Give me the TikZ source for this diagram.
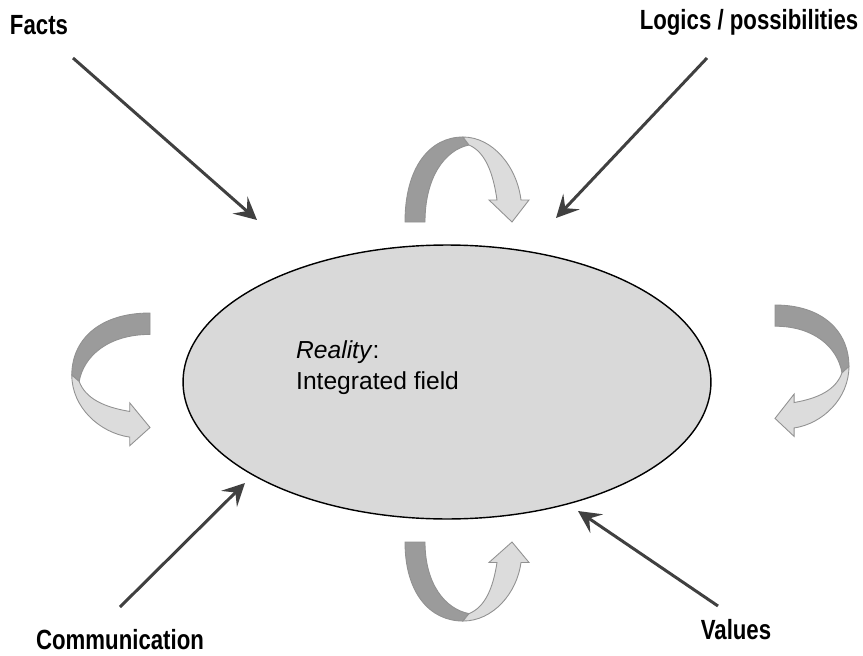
\documentclass[tikz,border=0pt]{standalone}
\usepackage{fontspec}
\setmainfont{Liberation Sans}
\newfontfamily\headfont{Liberation Sans}[FakeStretch=0.8]
\usetikzlibrary{shapes.geometric,arrows.meta}
\definecolor{fieldgray}{RGB}{217,217,217}
\definecolor{arrowgray}{RGB}{64,64,64}
\definecolor{backgray}{RGB}{155,155,155}
\definecolor{frontgray}{RGB}{220,220,220}
\definecolor{edgegray}{RGB}{145,145,145}
\tikzset{
  feed/.style={line width=1.7pt, draw=arrowgray, -{Stealth[length=4.5mm,width=4.5mm,inset=1.8mm]}},
  head/.style={font=\headfont\bfseries\fontsize{15.8}{18}\selectfont},
  inner/.style={anchor=west, font=\fontsize{14}{16}\selectfont},
  % twisted ribbon: dark back face, light front face with the head
  swirl/.pic={
    \filldraw [fill=backgray, draw=edgegray, line width=0.5pt]
      (0,0) .. controls (0,-55) and (25,-85) .. (58,-85) -- (64,-77)
      .. controls (40,-72) and (20,-45) .. (20,0) -- cycle;
    \filldraw [fill=frontgray, draw=edgegray, line width=0.5pt]
      (58,-85) .. controls (88,-85) and (112,-55) .. (116,-22)
      -- (124,-22) -- (107,0) -- (84,-22) -- (92,-22)
      .. controls (88,-50) and (80,-70) .. (64,-77) -- cycle;
  }
}
\begin{document}
\begin{tikzpicture}[x=0.02cm, y=-0.02cm]
    \useasboundingbox (0,0) rectangle (863,656);
    \node [ellipse, draw, line width=0.8pt, fill=fieldgray,
           minimum width=10.56cm, minimum height=5.48cm] (field) at (447,382) {};
    \node [inner] (real)  at (290,352) {\textit{Reality}:};
    \node [inner] (integ) at (290,383) {Integrated field};

    \node [head] (facts)  at (39,25)   {Facts};
    \node [head] (logics) at (749,22)  {Logics / possibilities};
    \node [head] (comm)   at (120,640) {Communication};
    \node [head] (values) at (736,630) {Values};

    \coordinate (f1) at (73,58);   \coordinate (f2) at (257,220);
    \coordinate (l1) at (707,58);  \coordinate (l2) at (556,218);
    \coordinate (c1) at (120,607); \coordinate (c2) at (245,483);
    \coordinate (v1) at (718,606); \coordinate (v2) at (578,511);
    \draw [feed] (f1) -- (f2);
    \draw [feed] (l1) -- (l2);
    \draw [feed] (c1) -- (c2);
    \draw [feed] (v1) -- (v2);

    % the four turning ribbons round the field
    \begin{scope}[shift={(405,222)}]
        \pic [transform shape] {swirl};
    \end{scope}
    \begin{scope}[shift={(405,542)}, yscale=-0.93]
        \pic [transform shape] {swirl};
    \end{scope}
    \begin{scope}[shift={(150,313)}, cm={0,-1.07,-0.92,0,(0,0)}]
        \pic [transform shape] {swirl};
    \end{scope}
    \begin{scope}[shift={(775,305)}, cm={0,-1.06,0.87,0,(0,0)}]
        \pic [transform shape] {swirl};
    \end{scope}
\end{tikzpicture}
\end{document}
